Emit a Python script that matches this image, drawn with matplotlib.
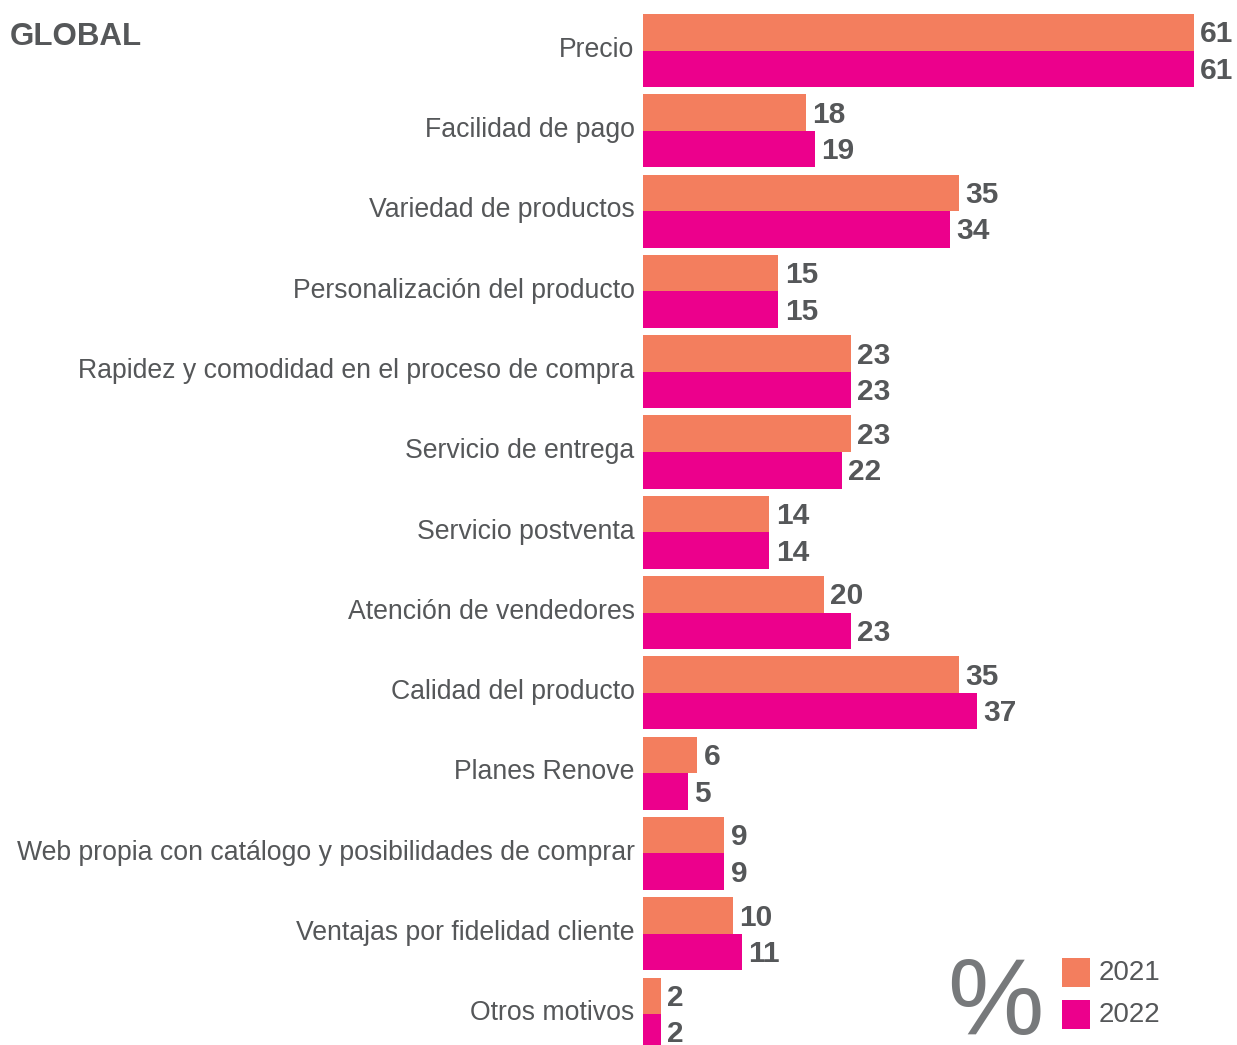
import matplotlib
matplotlib.use("Agg")
import matplotlib.pyplot as plt
from matplotlib.patches import Rectangle
import numpy as np

categories = [
    "Precio",
    "Facilidad de pago",
    "Variedad de productos",
    "Personalización del producto",
    "Rapidez y comodidad en el proceso de compra",
    "Servicio de entrega",
    "Servicio postventa",
    "Atención de vendedores",
    "Calidad del producto",
    "Planes Renove",
    "Web propia con catálogo y posibilidades de comprar",
    "Ventajas por fidelidad cliente",
    "Otros motivos",
]
values_2021 = [61, 18, 35, 15, 23, 23, 14, 20, 35, 6, 9, 10, 2]
values_2022 = [61, 19, 34, 15, 23, 22, 14, 23, 37, 5, 9, 11, 2]
series_labels = ["2021", "2022"]

C21 = "#F37E5E"
C22 = "#EC008C"
TXT = "#555759"

plt.rcParams["font.family"] = ["Liberation Sans", "DejaVu Sans"]

W, H = 1237, 1045
fig = plt.figure(figsize=(W / 100, H / 100), dpi=100)
ax = fig.add_axes([643 / W, 0, 1 - 643 / W, 1])

y = np.arange(len(categories))
bh = 0.455
ax.barh(y - bh / 2, values_2021, height=bh, color=C21, linewidth=0)
ax.barh(y + bh / 2, values_2022, height=bh, color=C22, linewidth=0)

ax.set_xlim(0, (W - 643) / 9.03)
ax.set_ylim(12.385, -0.629)
ax.axis("off")

numfont = dict(weight="bold", fontsize=21.5, color=TXT)
for i, (a, b) in enumerate(zip(values_2021, values_2022)):
    ax.annotate(str(a), (a, i - bh / 2), xytext=(4.5, -1.5), textcoords="offset points",
                ha="left", va="center", **numfont)
    ax.annotate(str(b), (b, i + bh / 2), xytext=(4.5, -1.5), textcoords="offset points",
                ha="left", va="center", **numfont)
    ax.annotate(categories[i], (0, i), xytext=(-6, 0.5), textcoords="offset points",
                ha="right", va="center", fontsize=19.2, color=TXT, annotation_clip=False)

fig.text(10 / W, 1 - 37 / H, "GLOBAL", ha="left", va="center",
         fontsize=22.5, weight="bold", color=TXT)

# legend
for k, (lab, col, ytop) in enumerate(zip(series_labels, [C21, C22], [958, 1000])):
    fig.patches.append(Rectangle((1062 / W, 1 - (ytop + 29) / H), 28 / W, 29 / H,
                                 transform=fig.transFigure, color=col, linewidth=0))
    fig.text(1099 / W, 1 - (ytop + 15) / H, lab, ha="left", va="center",
             fontsize=20, color=TXT)

fig.text(995 / W, 1 - 1006 / H, "%", ha="center", va="center",
         fontsize=78, color="#77797B")

fig.savefig("out.png", dpi=100)
